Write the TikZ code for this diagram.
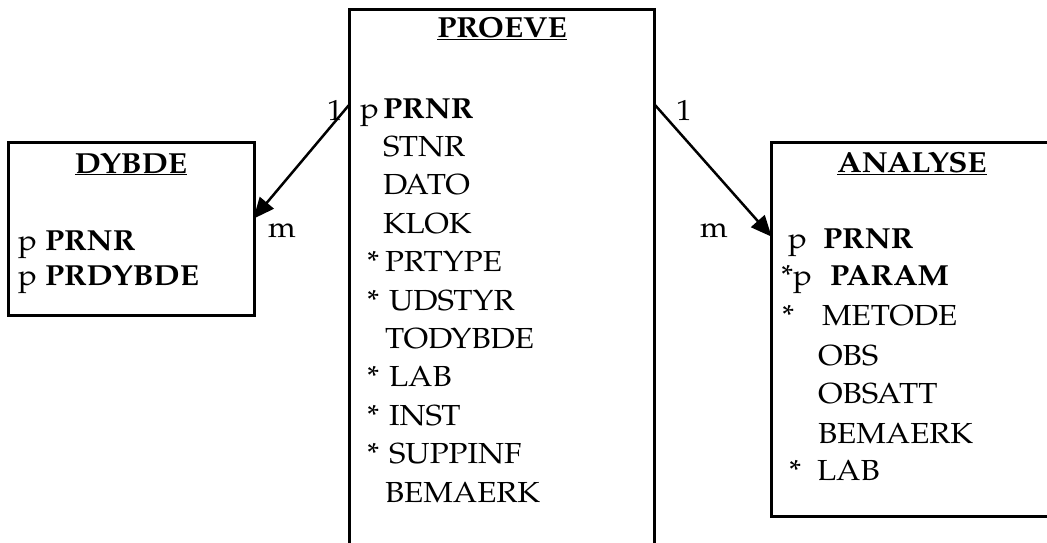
\documentclass[tikz,border=0pt]{standalone}
\usepackage{fontspec}
\setmainfont{TeX Gyre Pagella}[FakeStretch=1.08]
\usetikzlibrary{arrows.meta}
\begin{document}
\begin{tikzpicture}[x=1pt,y=-1pt,
  every node/.style={inner sep=0pt,outer sep=0pt,font=\fontsize{29}{35}\selectfont},
  ttl/.style={anchor=base,font=\fontsize{29}{35}\selectfont\bfseries},
  row/.style={anchor=base west},
  key/.style={anchor=base west,font=\fontsize{29}{35}\selectfont\bfseries},
  card/.style={anchor=base},
  frame/.style={draw,line width=3pt},
  rel/.style={line width=2.5pt,-{Triangle[length=21pt,width=18pt]},shorten >=-1pt}]
\useasboundingbox (0,0) rectangle (1047,542);
% DYBDE
\node[frame,minimum width=246pt,minimum height=173pt] (dybde) at (131,228.5) {};
\node[ttl] (dt) at (131,173) {\underline{DYBDE}};
\node[row] (d1p) at (18,250) {p};
\node[key] (d1) at (45,250) {PRNR};
\node[row] (d2p) at (18,285) {p};
\node[key] (d2) at (45,285) {PRDYBDE};
% PROEVE (open at the bottom)
\coordinate (pbl) at (349,560);
\coordinate (ptl) at (349,9);
\coordinate (ptr) at (654,9);
\coordinate (pbr) at (654,560);
\draw[frame] (pbl) -- (ptl) -- (ptr) -- (pbr);
\node[ttl] (pt) at (502,37) {\underline{PROEVE}};
\node[row] (p1p) at (360,118) {p};
\node[key] (p1) at (383,118) {PRNR};
\node[row] (p2) at (383,156.4) {STNR};
\node[row] (p3) at (383,194.8) {DATO};
\node[row] (p4) at (383,233.2) {KLOK};
\node[row] (p5s) at (367,271.6) {*};
\node[row] (p5) at (385,271.6) {PRTYPE};
\node[row] (p6s) at (367,310) {*};
\node[row] (p6) at (389,310) {UDSTYR};
\node[row] (p7) at (385,348.4) {TODYBDE};
\node[row] (p8s) at (367,386.8) {*};
\node[row] (p8) at (389,386.8) {LAB};
\node[row] (p9s) at (367,425.2) {*};
\node[row] (p9) at (389,425.2) {INST};
\node[row] (p10s) at (367,463.6) {*};
\node[row] (p10) at (389,463.6) {SUPPINF};
\node[row] (p11) at (385,502) {BEMAERK};
% ANALYSE
\node[frame,minimum width=290pt,minimum height=374pt] (analyse) at (916,329) {};
\node[ttl] (at) at (912,172) {\underline{ANALYSE}};
\node[row] (a1p) at (788,248) {p};
\node[key] (a1) at (823,248) {PRNR};
\node[row] (a2p) at (781,285) {*p};
\node[key] (a2) at (830,285) {PARAM};
\node[row] (a3s) at (782,325) {*};
\node[row] (a3) at (822,325) {METODE};
\node[row] (a4) at (818,365) {OBS};
\node[row] (a5) at (818,403) {OBSATT};
\node[row] (a6) at (818,443) {BEMAERK};
\node[row] (a7s) at (789,480) {*};
\node[row] (a7) at (817,480) {LAB};
% relationships
\coordinate (ls) at (349,105);
\coordinate (le) at (254,218);
\coordinate (rs) at (655,105);
\coordinate (re) at (771,236);
\draw[rel] (ls) -- (le);
\draw[rel] (rs) -- (re);
\node[card] (c1) at (335,120) {1};
\node[card] (c2) at (282,237) {m};
\node[card] (c3) at (684,120) {1};
\node[card] (c4) at (714,237) {m};
\end{tikzpicture}
\end{document}
